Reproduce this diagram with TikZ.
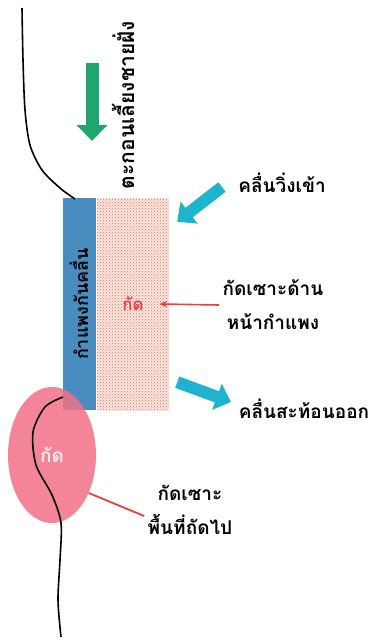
\documentclass[tikz,border=0pt]{standalone}
\usepackage{fontspec}
\newfontfamily\thaifont[Script=Thai]{Loma}
\usetikzlibrary{arrows.meta,shapes.geometric,patterns}

\definecolor{wallblue}{RGB}{72,140,192}
\definecolor{feedgreen}{RGB}{30,165,112}
\definecolor{wavecyan}{RGB}{30,180,208}
\definecolor{cutred}{RGB}{235,62,66}
\definecolor{erodepink}{RGB}{242,112,134}
\definecolor{sandbase}{RGB}{250,230,222}
\definecolor{sanddot}{RGB}{222,112,100}

\tikzset{
    thai/.style={font=\thaifont\bfseries\fontsize{19pt}{34pt}\selectfont},
    coast/.style={line width=1.6pt, black},
    wave/.style={wavecyan, line width=12pt, -{Triangle[width=27pt,length=15pt]}},
    feed/.style={feedgreen, line width=13pt, -{Triangle[width=30pt,length=16pt]}},
    cut/.style={cutred, line width=1.6pt, -{Stealth[length=8pt,width=6pt]}},
    cutline/.style={cutred, line width=1.8pt}
}

\begin{document}
\begin{tikzpicture}[x=1pt, y=-1pt]
        \useasboundingbox (0,0) rectangle (373,642);

        % seawall and the sand in front of it
        \node[fill=wallblue, rotate=90, minimum width=212pt, minimum height=33pt, inner sep=0pt, thai] (wall) at (79,304) {\fontsize{18pt}{20pt}\selectfont กำแพงกันคลื่น};
        \node[fill=sandbase, postaction={pattern=crosshatch dots, pattern color=sanddot}, minimum width=72pt, minimum height=212pt, inner sep=0pt, thai, text=cutred] (sand) at (133,304) {\fontsize{17pt}{20pt}\selectfont กัด};

        % shoreline
        \draw[coast] plot[smooth] coordinates {(22,8) (23,60) (25,110) (30,145) (42,170) (60,188) (75,199)};
        \node[fill=erodepink, fill opacity=0.85, text=white, ellipse, minimum width=88pt, minimum height=136pt, inner sep=0pt, thai] (erode) at (52,455) {กัด};
        \draw[coast] plot[smooth] coordinates {(63,397) (45,407) (33,432) (36,465) (52,495) (61,523) (60,560) (58,600) (61,637)};

        % sediment supply
        \node[thai, rotate=90] (sediment) at (123,105) {\fontsize{21pt}{24pt}\selectfont ตะกอนเลี้ยงชายฝั่ง};
        \draw[feed] (92,63) -- (92,141);

        % labels
        \node[thai] (wavein) at (282,183) {คลื่นวิ่งเข้า};
        \node[thai, align=center] (wallcut) at (273,305) {กัดเซาะด้าน\\หน้ากำแพง};
        \node[thai] (waveout) at (304,409) {คลื่นสะท้อนออก};
        \node[thai, align=center] (nextcut) at (190,510) {กัดเซาะ\\พื้นที่ถัดไป};

        % waves and erosion
        \coordinate (inTail) at (222,187);
        \coordinate (outTip) at (231,402);
        \draw[wave] (inTail) -- ([xshift=8pt,yshift=-24pt]sand.north east);
        \draw[wave] ([xshift=8pt,yshift=28pt]sand.south east) -- (outTip);
        \draw[cut] (wallcut.west) -- ([xshift=-10pt]sand.east);
        \draw[cutline] ([yshift=-6pt]nextcut.west) -- (erode.-46);
    \end{tikzpicture}
\end{document}
